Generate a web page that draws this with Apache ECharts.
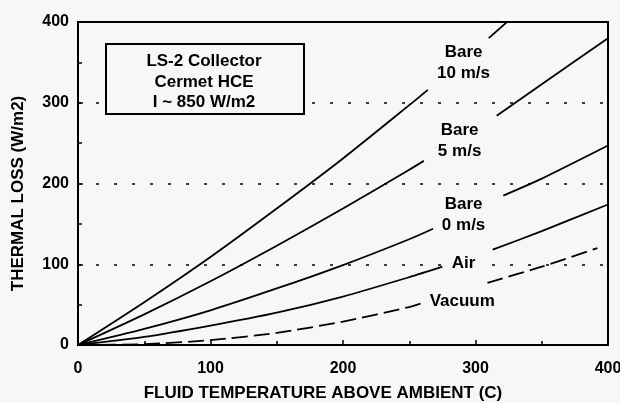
<!DOCTYPE html>
<html>
<head>
<meta charset="utf-8">
<script src="https://cdn.jsdelivr.net/npm/echarts@6/dist/echarts.min.js"></script>
<style>
  html, body { margin: 0; padding: 0; background: #f7f7f7; }
  #main { width: 620px; height: 403px; }
</style>
</head>
<body>
<div id="main"></div>
<script>
// [temperature, loss] pairs; null = gap where the label sits
var bare10 = [[0, 0], [50, 53], [100, 109], [150, 169], [200, 231], [250, 297], [264, 316], [287, null], [310, 380], [350, 438]];
var bare5 = [[0, 0], [50, 38], [100, 79], [150, 123], [200, 169], [250, 217], [261, 228], [288, null], [316, 284], [350, 323], [400, 380]];
var bare0 = [[0, 0], [50, 20], [100, 43], [150, 70], [200, 99], [250, 131], [268, 144], [295, null], [321, 185], [350, 206], [400, 247]];
var air = [[0, 0], [50, 10], [100, 24], [150, 40], [200, 60], [250, 84], [275, 97], [294, null], [313, 118], [350, 141], [400, 174]];
var vacuum = [[0, 0], [50, 1], [100, 6], [150, 15], [200, 29], [250, 47], [260, 52], [285, null], [309, 77], [350, 97], [392, 120]];

// curve label text and where it sits (data coords)
var curveLabels = [
    { name: 'Bare\n10 m/s', at: [291, 349] },
    { name: 'Bare\n5 m/s', at: [288, 253] },
    { name: 'Bare\n0 m/s', at: [291, 161] },
    { name: 'Air', at: [291, 101] },
    { name: 'Vacuum', at: [290, 54] }
];
var seriesData = [bare10, bare5, bare0, air, vacuum];

var BG = '#f7f7f7';
var FONT = 'Liberation Sans';

var chart = echarts.init(document.getElementById('main'));

var series = seriesData.map(function (d, i) {
    var lab = curveLabels[i];
    return {
        type: 'line',
        name: lab.name,
        data: d,
        showSymbol: false,
        connectNulls: false,
        smooth: 0.25,
        clip: true,
        lineStyle: {
            color: '#000',
            width: 1.8,
            type: i === 4 ? [16, 6] : 'solid'
        },
        markPoint: {
            symbol: 'circle',
            symbolSize: 0,
            z: 10,
            data: [{ coord: lab.at }],
            label: {
                show: true,
                position: 'inside',
                formatter: lab.name,
                color: '#000',
                fontFamily: FONT,
                fontWeight: 'bold',
                fontSize: 17,
                lineHeight: 21,
                align: 'center',
                backgroundColor: BG,
                padding: [0, 3]
            }
        }
    };
});

var option = {
    backgroundColor: BG,
    animation: false,
    grid: {
        left: 78, right: 12, top: 22, bottom: 58,
        outerBoundsMode: 'none',
        show: true, borderColor: '#000', borderWidth: 2
    },
    xAxis: {
        type: 'value',
        min: 0, max: 400, interval: 100,
        name: 'FLUID TEMPERATURE ABOVE AMBIENT (C)',
        nameLocation: 'middle',
        nameGap: 40,
        nameTextStyle: {
            color: '#000', fontFamily: FONT, fontWeight: 'bold', fontSize: 17,
            padding: [0, 40, 0, 0]
        },
        axisLine: { lineStyle: { color: '#000', width: 2 } },
        axisTick: { inside: true, length: 5, lineStyle: { color: '#000', width: 1.5 } },
        minorTick: { show: true, splitNumber: 2, length: 4, lineStyle: { color: '#000', width: 1.5 } },
        axisLabel: { color: '#000', fontFamily: FONT, fontWeight: 'bold', fontSize: 16, margin: 16 },
        splitLine: { show: false }
    },
    yAxis: {
        type: 'value',
        min: 0, max: 400, interval: 100,
        name: 'THERMAL LOSS (W/m2)',
        nameLocation: 'middle',
        nameGap: 51,
        nameTextStyle: {
            color: '#000', fontFamily: FONT, fontWeight: 'bold', fontSize: 17,
            padding: [0, 20, 0, 0]
        },
        axisLine: { lineStyle: { color: '#000', width: 2 } },
        axisTick: { inside: true, length: 5, lineStyle: { color: '#000', width: 1.5 } },
        minorTick: { show: true, splitNumber: 2, length: 4, lineStyle: { color: '#000', width: 1.5 } },
        axisLabel: { color: '#000', fontFamily: FONT, fontWeight: 'bold', fontSize: 16, margin: 9 },
        splitLine: { show: true, lineStyle: { color: '#000', width: 1.5, type: [3, 15] } }
    },
    graphic: [{
        type: 'rect',
        left: 105,
        top: 43,
        z: 100,
        shape: { width: 198, height: 70 },
        style: { fill: BG, stroke: '#000', lineWidth: 2 }
    }, {
        type: 'text',
        x: 204,
        y: 82,
        z: 101,
        style: {
            text: 'LS-2 Collector\nCermet HCE\nI ~ 850 W/m2',
            fill: '#000',
            font: 'bold 17px "Liberation Sans"',
            lineHeight: 20.5,
            align: 'center',
            verticalAlign: 'middle'
        }
    }],
    series: series
};

chart.setOption(option);
</script>
</body>
</html>
